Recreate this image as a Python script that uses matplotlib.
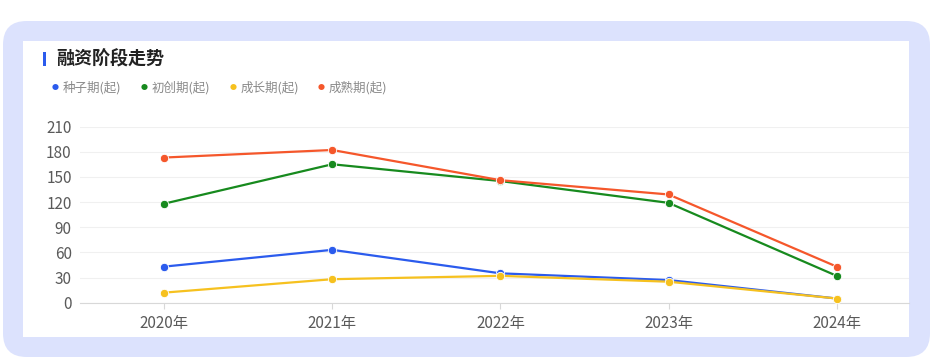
import matplotlib
matplotlib.use("Agg")
import matplotlib.pyplot as plt
from matplotlib.patches import FancyBboxPatch, Rectangle

plt.rcParams['font.family'] = ['Noto Sans CJK SC', 'DejaVu Sans']

# data
years = ["2020年", "2021年", "2022年", "2023年", "2024年"]
seed = [43, 63, 35, 27, 5]
startup = [118, 165, 145, 119, 32]
growth = [12, 28, 32, 25, 5]
mature = [173, 182, 146, 129, 43]

series_names = ["种子期(起)", "初创期(起)", "成长期(起)", "成熟期(起)"]
series_values = [seed, startup, growth, mature]
colors = ["#2b5bed", "#178a1e", "#f6c11f", "#f5572b"]

yticks = [0, 30, 60, 90, 120, 150, 180, 210]

W, H = 948, 364
fig = plt.figure(figsize=(W / 100, H / 100), dpi=100)
fig.patch.set_facecolor("white")


def px(x, y, w, h):
    # pixel box (top-left origin) -> figure fraction
    return x / W, 1 - (y + h) / H, w / W, h / H


# lavender card with rounded corners, white panel inside
x0, y0, w0, h0 = px(3, 21, 927, 336)
fig.patches.append(FancyBboxPatch((x0, y0), w0, h0,
                                  boxstyle="round,pad=0,rounding_size=0.025",
                                  transform=fig.transFigure, mutation_aspect=W / H,
                                  facecolor="#dce2fd", edgecolor="none", zorder=-2))
x1, y1, w1, h1 = px(23, 41, 886, 296)
fig.patches.append(Rectangle((x1, y1), w1, h1, transform=fig.transFigure,
                             facecolor="white", edgecolor="none", zorder=-1))

# title with the blue bar
bx, by, bw, bh = px(43, 52, 3, 14)
fig.patches.append(Rectangle((bx, by), bw, bh, transform=fig.transFigure,
                             facecolor="#2b5bed", edgecolor="none", zorder=2))
fig.text(56 / W, 1 - 59 / H, "融资阶段走势", fontsize=13, fontweight="bold",
         color="#222222", va="center", ha="left")

# legend drawn by hand, echarts style
legend_x = [55, 144, 233, 321]
for lx, name, c in zip(legend_x, series_names, colors):
    fig.text(lx / W, 1 - 88 / H, "●", fontsize=5, color=c, va="center", ha="center")
    fig.text((lx + 8) / W, 1 - 88 / H, name, fontsize=9, color="#8a8a8a",
             va="center", ha="left")

ax = fig.add_axes([80 / W, 61.3 / H, 829 / W, 176.2 / H])
ax.set_zorder(3)
ax.set_facecolor("none")
x = list(range(len(years)))
for vals, c in zip(series_values, colors):
    ax.plot(x, vals, color=c, linewidth=1.6, marker="o", markersize=6,
            markeredgecolor="white", markeredgewidth=0.6, zorder=3, clip_on=False)

ax.set_xlim(-0.5, 4.43)
ax.set_ylim(0, 210)
ax.set_yticks(yticks)
ax.set_xticks(x)
ax.set_xticklabels(years)
ax.grid(axis="y", color="#f0f0f0", linewidth=0.8)
ax.set_axisbelow(True)
for s in ["top", "right", "left"]:
    ax.spines[s].set_visible(False)
ax.spines["bottom"].set_color("#d8d8d8")
ax.tick_params(axis="y", length=0, labelsize=11, labelcolor="#5a5a5a", pad=6)
ax.tick_params(axis="x", length=4, color="#d8d8d8", labelsize=11,
               labelcolor="#5a5a5a", pad=5)

fig.savefig("out.png", dpi=100)
